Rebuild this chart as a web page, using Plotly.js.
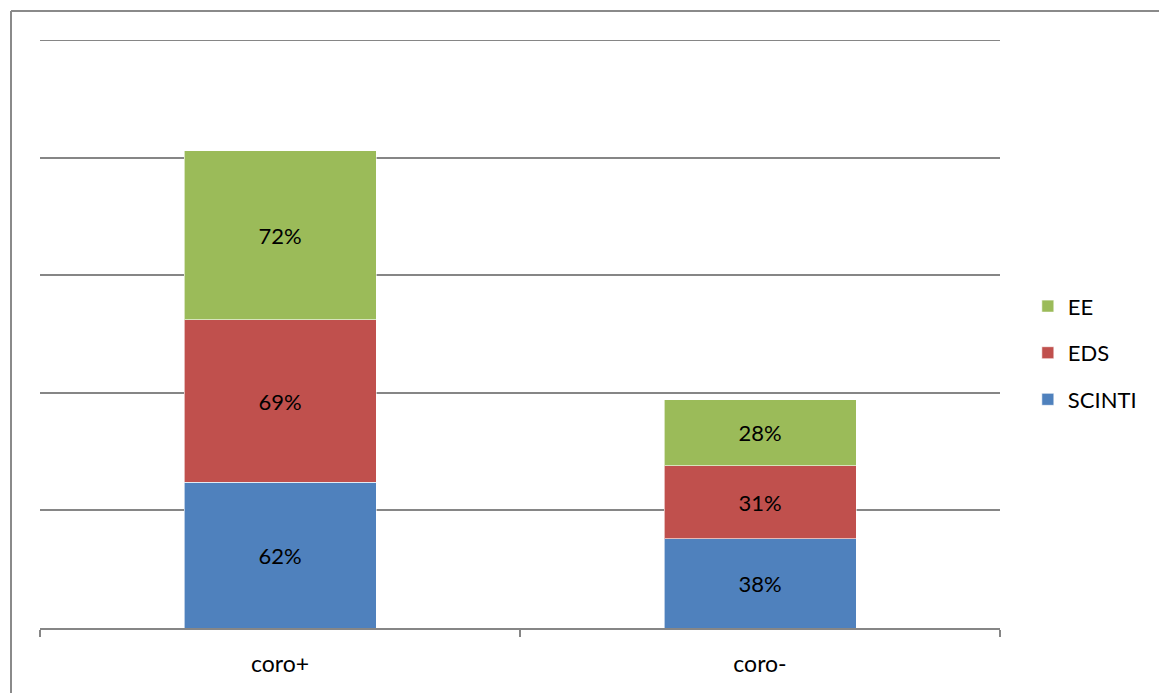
<!DOCTYPE html>
<html>
<head>
<meta charset="utf-8">
<script src="https://cdn.plot.ly/plotly-3.0.1.min.js"></script>
<style>
  html, body { margin: 0; padding: 0; background: #fff; }
  #chart { width: 1159px; height: 693px; }
</style>
</head>
<body>
<div id="chart"></div>
<script>
// Groups and percentage per exam
const categories = ['coro+', 'coro-'];
const seriesNames = ['SCINTI', 'EDS', 'EE'];
const scintiValues = [62, 38];
const edsValues = [69, 31];
const eeValues = [72, 28];
const seriesColors = ['#4F81BD', '#C0504D', '#9BBB59'];
const legendRanks = [3, 2, 1];
const yMax = 250;

const W = 1159, H = 693;
const margin = { l: 40, r: 159, t: 40, b: 65, pad: 0 };
const plotW = W - margin.l - margin.r;
const plotH = H - margin.t - margin.b;

// convert a pixel position to paper coordinates for the outer frame
const px2x = p => (p - margin.l) / plotW;
const px2y = p => (H - margin.b - p) / plotH;

const seriesValues = [scintiValues, edsValues, eeValues];
const traces = seriesNames.map((name, i) => ({
  type: 'bar',
  name: name,
  x: categories,
  y: seriesValues[i],
  width: 0.4,
  legendgroup: name,
  legendrank: legendRanks[i],
  marker: { color: seriesColors[i], line: { color: 'rgba(255,255,255,0.6)', width: 1 } },
  texttemplate: '%{y}%',
  textposition: 'inside',
  insidetextanchor: 'middle',
  textangle: 0,
  textfont: { family: 'Lato, "Liberation Sans", sans-serif', size: 22, color: '#000' },
  hoverinfo: 'name+y'
}));

const gridColor = '#868686';
const frameColor = '#8a8a8a';
const layout = {
  width: W,
  height: H,
  margin: margin,
  paper_bgcolor: '#ffffff',
  plot_bgcolor: '#ffffff',
  barmode: 'stack',
  showlegend: true,
  font: { family: 'Lato, "Liberation Sans", sans-serif', size: 22, color: '#000' },
  xaxis: {
    type: 'category',
    range: [-0.5, 1.5],
    showline: true,
    linecolor: gridColor,
    linewidth: 2,
    ticks: 'outside',
    tickson: 'boundaries',
    ticklen: 7,
    tickwidth: 2,
    tickcolor: gridColor,
    ticklabelstandoff: 14,
    showgrid: false,
    zeroline: false,
    tickfont: { size: 23, color: '#000' }
  },
  yaxis: {
    range: [0, yMax],
    dtick: 50,
    showgrid: true,
    gridcolor: gridColor,
    gridwidth: 2,
    showticklabels: false,
    ticks: '',
    zeroline: false,
    showline: false
  },
  legend: {
    x: 1.029,
    xanchor: 'left',
    y: 0.468,
    yanchor: 'middle',
    traceorder: 'grouped',
    tracegroupgap: 15,
    bgcolor: 'rgba(0,0,0,0)',
    font: { size: 22, color: '#000' },
    itemwidth: 30
  },
  shapes: [
    // top gridline at the end of the value range
    { type: 'line', xref: 'paper', yref: 'y', x0: 0, x1: 1, y0: yMax, y1: yMax, layer: 'below', line: { color: gridColor, width: 2 } },
    // outer frame (left and top edges)
    { type: 'line', xref: 'paper', yref: 'paper', x0: px2x(11), x1: px2x(W + 5), y0: px2y(11), y1: px2y(11), line: { color: frameColor, width: 2 } },
    { type: 'line', xref: 'paper', yref: 'paper', x0: px2x(11), x1: px2x(11), y0: px2y(11), y1: px2y(H + 5), line: { color: frameColor, width: 2 } }
  ]
};

Plotly.newPlot('chart', traces, layout, { displayModeBar: false, staticPlot: true });
</script>
</body>
</html>
